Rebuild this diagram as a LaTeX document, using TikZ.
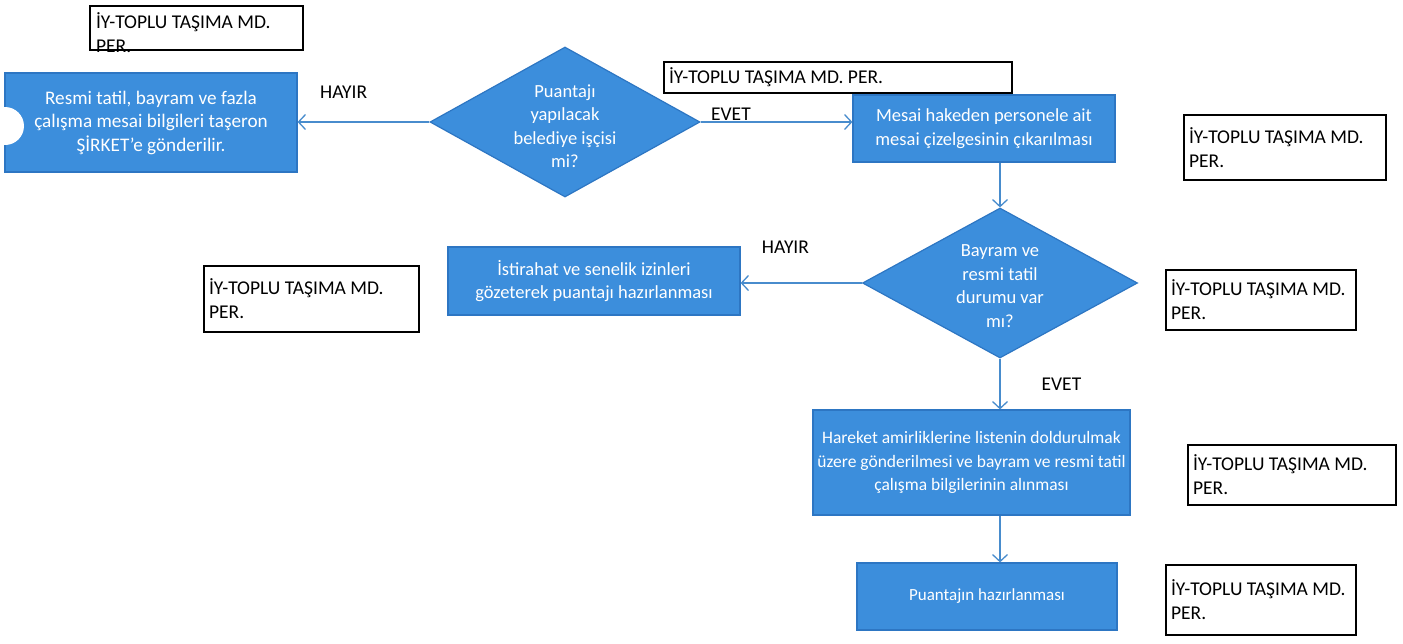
\documentclass[tikz,border=0pt]{standalone}
\usepackage{fontspec}
\setmainfont{Carlito}
\usetikzlibrary{shapes.geometric,arrows.meta}

\definecolor{kutumavi}{RGB}{60,142,220}
\definecolor{kenarmavi}{RGB}{45,118,195}
\definecolor{okmavi}{RGB}{72,140,205}

\begin{document}
\begin{tikzpicture}[x=1pt,y=-1pt,
    every node/.style={font=\fontsize{18.5}{23.5}\selectfont},
    isbox/.style={draw=kenarmavi, line width=1.2pt, fill=kutumavi, text=white, align=center, inner sep=4pt},
    karar/.style={diamond, draw=kenarmavi, line width=1.2pt, fill=kutumavi, inner sep=0pt},
    etiket/.style={draw=black, line width=1.6pt, fill=white, align=flush left, inner xsep=5pt, inner ysep=4pt,
        font=\fontsize{19.5}{24}\selectfont},
    ok/.style={draw=okmavi, line width=1.3pt, -{Straight Barb[length=7pt,width=15pt]}},
    cevap/.style={font=\fontsize{19.5}{22}\selectfont, inner sep=1pt}]
    \useasboundingbox (0,0) rectangle (1403,643);

    % islem kutulari
    \node[isbox, minimum width=292pt, minimum height=99pt, font=\fontsize{19.2}{23.5}\selectfont] (resmi) at (151,122.5) {Resmi tatil, bayram ve fazla\\çalışma mesai bilgileri taşeron\\ŞİRKET'e gönderilir.};
    \fill[white] (5,126) circle (19);
    \node[isbox, minimum width=262pt, minimum height=67pt] (mesai) at (984,128.5) {Mesai hakeden personele ait\\mesai çizelgesinin çıkarılması};
    \node[isbox, minimum width=292pt, minimum height=68pt] (istirahat) at (594,281) {İstirahat ve senelik izinleri\\gözeterek puantajı hazırlanması};
    \node[isbox, minimum width=317pt, minimum height=105pt, font=\fontsize{17.5}{23.5}\selectfont] (hareket) at (971.5,462.5) {Hareket amirliklerine listenin doldurulmak\\üzere gönderilmesi ve bayram ve resmi tatil\\çalışma bilgilerinin alınması};
    \node[isbox, minimum width=260pt, minimum height=67pt, font=\fontsize{17}{20}\selectfont] (puantaj) at (987,596.5) {Puantajın hazırlanması};

    % kararlar
    \node[karar, minimum width=270pt, minimum height=150pt,
        label={[text=white, align=center, yshift=-4pt]center:Puantajı\\yapılacak\\belediye işçisi\\mi?}] (isci) at (565,122) {};
    \node[karar, minimum width=275pt, minimum height=150pt,
        label={[text=white, align=center, yshift=-3pt]center:Bayram ve\\resmi tatil\\durumu var\\mı?}] (bayram) at (1000,283) {};

    % sorumlu etiketleri
    \node[etiket, minimum width=213pt, minimum height=44pt] (sorumlu1) at (196.5,28) {\parbox[c][30pt][t]{201pt}{İY-TOPLU TAŞIMA MD.\\PER.}};
    \node[etiket, text width=338pt, minimum height=31pt] (sorumlu2) at (838,77.5) {İY-TOPLU TAŞIMA MD. PER.};
    \node[etiket, text width=192pt, minimum height=65pt] (sorumlu3) at (1285,147.5) {İY-TOPLU TAŞIMA MD.\\PER.};
    \node[etiket, text width=180pt, minimum height=60pt] (sorumlu4) at (1261,300) {İY-TOPLU TAŞIMA MD.\\PER.};
    \node[etiket, text width=205pt, minimum height=66pt] (sorumlu5) at (311.5,299) {İY-TOPLU TAŞIMA MD.\\PER.};
    \node[etiket, text width=198pt, minimum height=60pt] (sorumlu6) at (1292,475) {İY-TOPLU TAŞIMA MD.\\PER.};
    \node[etiket, text width=180pt, minimum height=70pt] (sorumlu7) at (1261,600) {İY-TOPLU TAŞIMA MD.\\PER.};

    % oklar
    \draw[ok] (isci.west) -- (isci.west -| resmi.east) node[cevap, pos=0.65, above=22pt] {HAYIR};
    \draw[ok] (isci.east) -- (isci.east -| mesai.west) node[cevap, pos=0.2, above] {EVET};
    \draw[ok] (mesai.south -| bayram.north) -- (bayram.north);
    \draw[ok] (bayram.west) -- (bayram.west -| istirahat.east) node[cevap, pos=0.63, above=28pt] {HAYIR};
    \draw[ok] (bayram.south) -- (bayram.south |- hareket.north) node[cevap, midway, right=40pt] {EVET};
    \draw[ok] (bayram.south |- hareket.south) -- (bayram.south |- puantaj.north);
\end{tikzpicture}
\end{document}
